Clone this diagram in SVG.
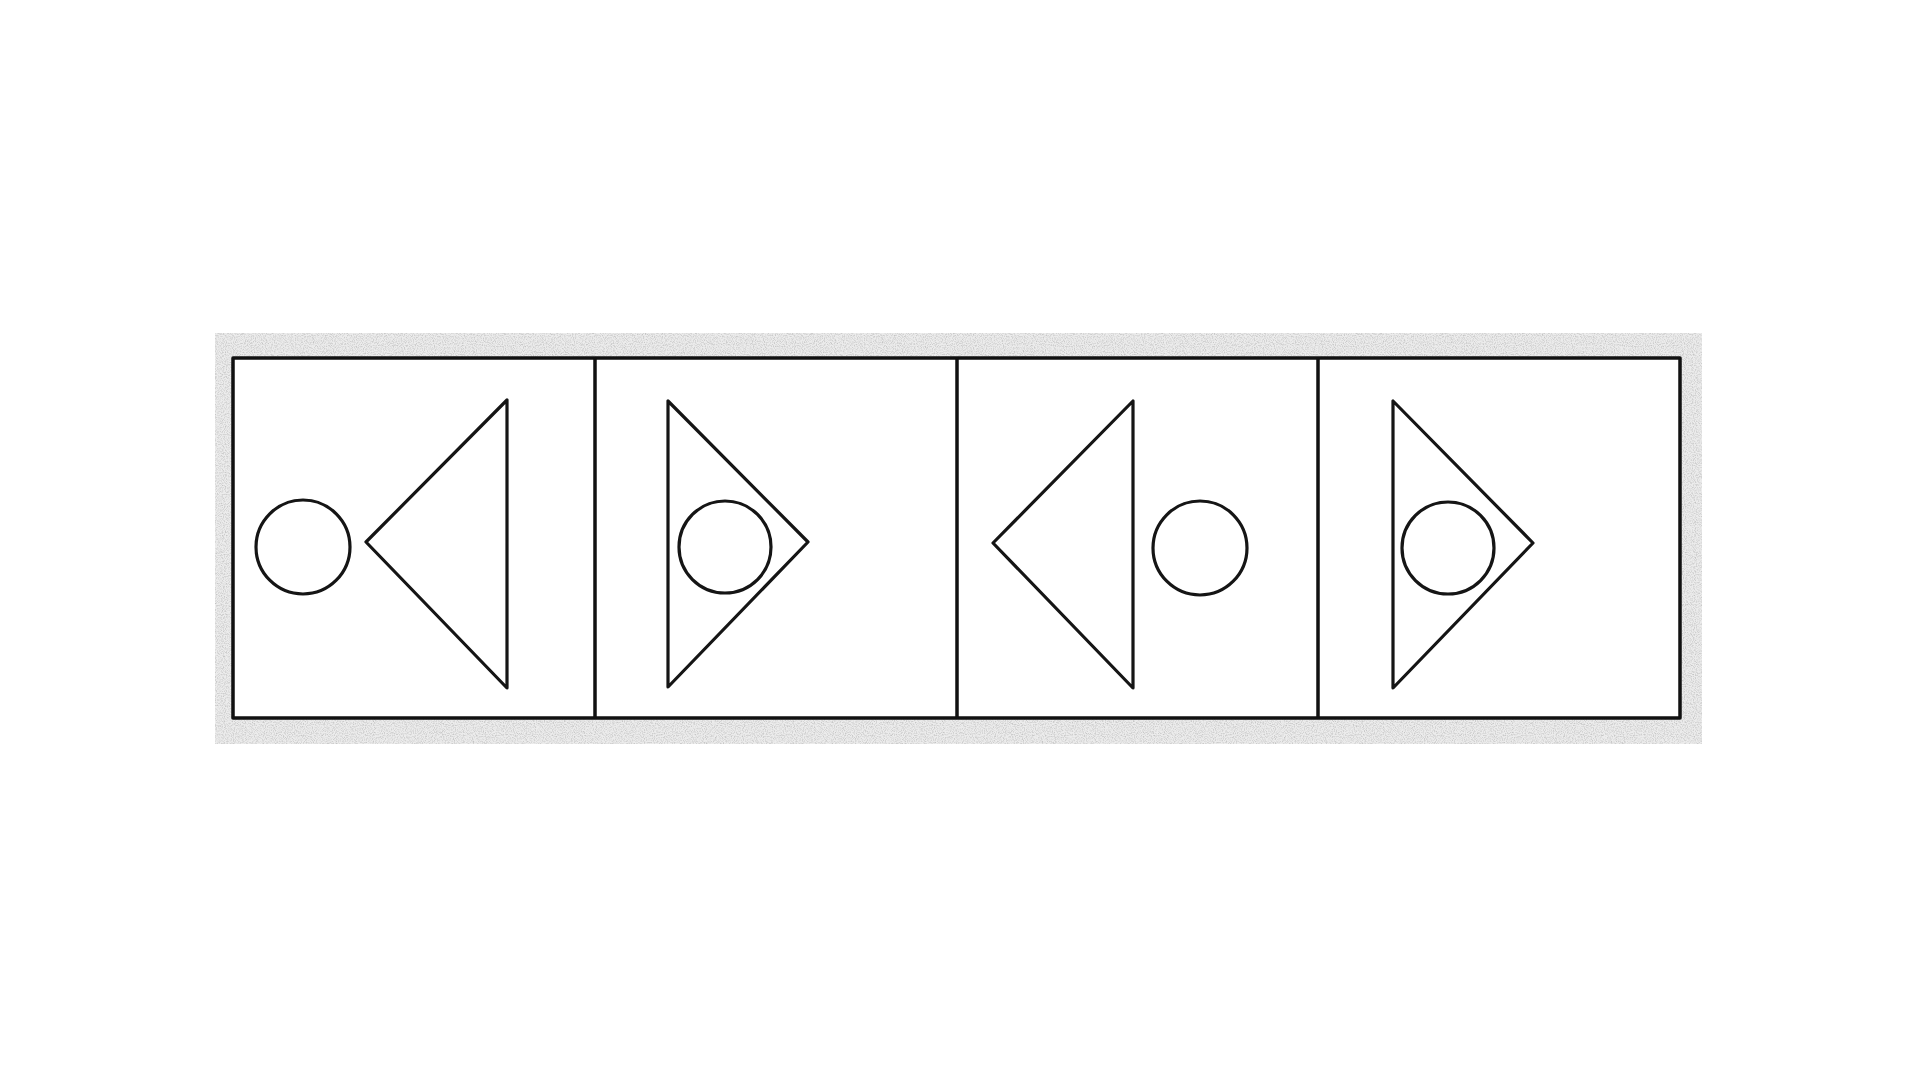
<svg xmlns="http://www.w3.org/2000/svg" width="1920" height="1080" viewBox="0 0 1920 1080">
<defs>
<style>
.ln{fill:none;stroke:#111;stroke-width:3.5;stroke-linejoin:round}
.sh{fill:none;stroke:#151515;stroke-width:3.2;stroke-linejoin:round}
</style>
<filter id="noise" x="0" y="0" width="100%" height="100%">
<feTurbulence type="fractalNoise" baseFrequency="0.9" numOctaves="2" seed="3" result="t"/>
<feColorMatrix type="matrix" values="0 0 0 0 0.55  0 0 0 0 0.55  0 0 0 0 0.55  0 0 0 -2.2 1.3" in="t" result="c"/>
<feComposite in="c" in2="SourceGraphic" operator="in"/>
</filter>
</defs>
<rect width="1920" height="1080" fill="#fff"/>
<g id="background">
<rect x="215" y="333" width="1487" height="411" fill="#ececec"/>
<rect x="215" y="333" width="1487" height="411" fill="#fff" filter="url(#noise)"/>
<rect x="233" y="358" width="1447" height="360" fill="#fff"/>
</g>
<g id="frame">
<rect class="ln" x="233" y="358" width="1447" height="360"/>
<line class="ln" x1="595" y1="358" x2="595" y2="718"/>
<line class="ln" x1="957" y1="358" x2="957" y2="718"/>
<line class="ln" x1="1318" y1="358" x2="1318" y2="718"/>
</g>
<g id="panel1">
<circle class="sh" cx="303" cy="547" r="47"/>
<polygon class="sh" points="507,400 507,688 366,542"/>
</g>
<g id="panel2">
<polygon class="sh" points="668,401 668,687 808,542"/>
<circle class="sh" cx="725" cy="547" r="46"/>
</g>
<g id="panel3">
<polygon class="sh" points="1133,401 1133,688 993,543"/>
<circle class="sh" cx="1200" cy="548" r="47"/>
</g>
<g id="panel4">
<polygon class="sh" points="1393,401 1393,688 1533,543"/>
<circle class="sh" cx="1448" cy="548" r="46"/>
</g>
</svg>
